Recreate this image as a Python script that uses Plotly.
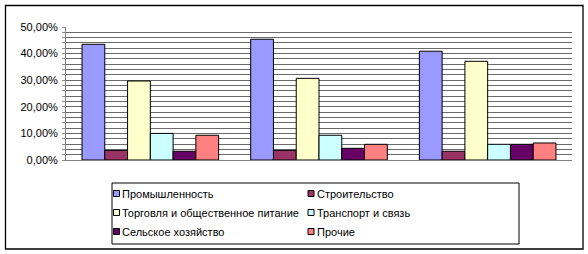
import plotly.graph_objects as go

categories = ["1", "2", "3"]
series_names = ["Промышленность", "Строительство", "Торговля и общественное питание",
                "Транспорт и связь", "Сельское хозяйство", "Прочие"]
promyshlennost = [0.435, 0.454, 0.409]
stroitelstvo = [0.036, 0.036, 0.033]
torgovlya = [0.297, 0.307, 0.371]
transport = [0.100, 0.093, 0.059]
selskoe = [0.033, 0.044, 0.059]
prochie = [0.093, 0.059, 0.064]
colors = ["#9999FF", "#993366", "#FFFFCC", "#CCFFFF", "#660066", "#FF8080"]

series_values = [promyshlennost, stroitelstvo, torgovlya, transport, selskoe, prochie]

# y grid every 2 %, labels every 10 %
grid_vals = [k / 50 for k in range(0, 26)]
grid_text = [(f"{int(round(v * 100))},00%" if k % 5 == 0 else "") for k, v in enumerate(grid_vals)]

W, H = 588, 254
L, R, T, B = 66, 16, 27, 94
PW, PH = W - L - R, H - T - B


def px_x(px):
    return (px - L) / PW


def px_y(py):
    return (H - B - py) / PH


fig = go.Figure()
for name, vals, col in zip(series_names, series_values, colors):
    fig.add_trace(go.Bar(x=categories, y=vals, name=name, showlegend=False,
                         marker=dict(color=col, line=dict(color="black", width=1))))

shapes = []
annotations = []
# outer chart border
shapes.append(dict(type="rect", xref="paper", yref="paper",
                   x0=px_x(5.5), x1=px_x(583), y0=px_y(249), y1=px_y(5.5),
                   line=dict(color="black", width=1.3), fillcolor="rgba(0,0,0,0)"))
# legend box
shapes.append(dict(type="rect", xref="paper", yref="paper",
                   x0=px_x(112), x1=px_x(519), y0=px_y(244), y1=px_y(183),
                   line=dict(color="black", width=1), fillcolor="rgba(0,0,0,0)"))
row_y = [193.5, 212.5, 231.5]
col_x = [113.5, 308]
for i, (name, col) in enumerate(zip(series_names, colors)):
    r, c = divmod(i, 2)
    sx, sy = col_x[c], row_y[r]
    shapes.append(dict(type="rect", xref="paper", yref="paper",
                       x0=px_x(sx), x1=px_x(sx + 6), y0=px_y(sy + 3), y1=px_y(sy - 3),
                       line=dict(color="black", width=1), fillcolor=col))
    annotations.append(dict(xref="paper", yref="paper", x=px_x(sx + 6.5), y=px_y(sy),
                            xanchor="left", yanchor="middle", showarrow=False,
                            text=name, font=dict(family="Arial", size=11, color="black")))

fig.update_layout(
    width=W, height=H,
    margin=dict(l=L, r=R, t=T, b=B),
    paper_bgcolor="white", plot_bgcolor="white",
    barmode="group", bargap=0.19, bargroupgap=0,
    font=dict(family="Arial", size=11, color="black"),
    showlegend=False,
    shapes=shapes, annotations=annotations,
    xaxis=dict(showticklabels=False, showgrid=False, zeroline=False,
               showline=True, linecolor="#808080", linewidth=1, ticks=""),
    yaxis=dict(range=[0, 0.5], tickmode="array", tickvals=grid_vals, ticktext=grid_text,
               showgrid=True, gridcolor="#6a6a6a", gridwidth=1,
               zeroline=False, showline=True, linecolor="#808080", linewidth=1,
               ticks="outside", ticklen=3, tickcolor="#909090",
               ticklabelstandoff=2,
               tickfont=dict(family="Arial", size=11, color="black")),
)

fig.write_html("out.html")
